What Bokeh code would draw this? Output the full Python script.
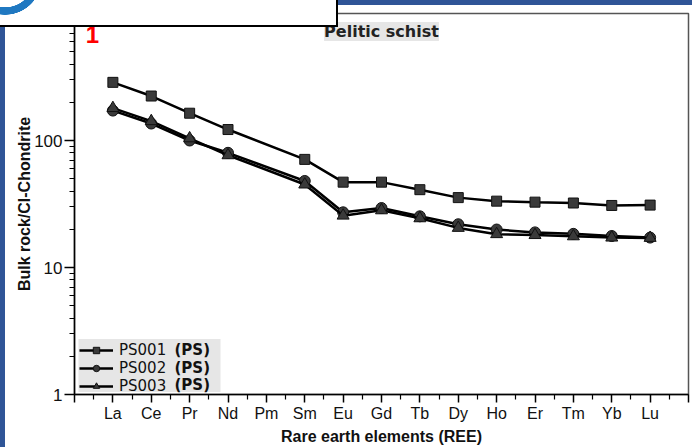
from bokeh.plotting import figure
from bokeh.models import (Range1d, FixedTicker, LogTicker, Legend, LegendItem, Label,
                          BoxAnnotation, PrintfTickFormatter)
from bokeh.embed import file_html
from bokeh.resources import INLINE

# Rare earth element order (Pm has no measurement)
elements = ["La", "Ce", "Pr", "Nd", "Pm", "Sm", "Eu", "Gd", "Tb", "Dy", "Ho", "Er", "Tm", "Yb", "Lu"]

# Chondrite-normalised concentrations
ps001 = [287, 224, 164, 122, None, 71, 47, 47, 41, 35.5, 33.3, 32.7, 32.2, 30.8, 31.0]
ps002 = [172, 136, 100, 80, None, 48, 27.2, 29.4, 25.3, 21.9, 19.9, 18.9, 18.4, 17.7, 17.2]
ps003 = [180, 142, 104, 76.5, None, 45, 25.6, 28.2, 24.4, 20.5, 18.3, 18.0, 17.6, 17.2, 17.1]

sample_names = ["PS001", "PS002", "PS003"]
group_tag = "(PS)"
title_text = "Pelitic schist"
panel_tag = "1"

W, H = 692, 447
FONT = "Liberation Sans"
WIDE = "DejaVu Sans"

p = figure(width=W, height=H, output_backend="svg", toolbar_location=None,
           y_axis_type="log", x_range=Range1d(0, 16), y_range=Range1d(1, 1000),
           min_border_left=74, min_border_right=4, min_border_top=13, min_border_bottom=47)
p.background_fill_color = "white"
p.border_fill_color = "white"
p.outline_line_color = "#555555"
p.outline_line_width = 1.5
p.grid.visible = False

# x axis: element names at integer positions, minor ticks in between
p.xaxis.ticker = FixedTicker(ticks=list(range(0, 17)),
                             minor_ticks=[i + 0.5 for i in range(0, 16)])
overrides = {i + 1: el for i, el in enumerate(elements)}
overrides[0] = ""
overrides[16] = ""
p.xaxis.major_label_overrides = overrides
p.yaxis.ticker = LogTicker(mantissas=[1], num_minor_ticks=10)
p.yaxis.formatter = PrintfTickFormatter(format="%d")

for ax in (p.xaxis[0], p.yaxis[0]):
    ax.axis_line_color = "black"
    ax.axis_line_width = 1.5
    ax.major_tick_line_color = "black"
    ax.major_tick_line_width = 1.5
    ax.minor_tick_line_color = "black"
    ax.minor_tick_line_width = 1.2
    ax.major_tick_in = 0
    ax.minor_tick_in = 0
    ax.major_label_text_font = FONT
    ax.major_label_text_color = "#111111"
    ax.axis_label_text_font = FONT
    ax.axis_label_text_font_style = "bold"
    ax.axis_label_text_font_size = "16px"
    ax.axis_label_text_color = "#111111"

p.xaxis.major_tick_out = 8
p.xaxis.minor_tick_out = 5
p.xaxis.major_label_text_font_size = "16px"
p.xaxis.major_label_standoff = 2
p.xaxis.axis_label = "Rare earth elements (REE)"
p.xaxis.axis_label_standoff = 3

p.yaxis.major_tick_out = 10
p.yaxis.minor_tick_out = 5
p.yaxis.major_label_text_font_size = "17px"
p.yaxis.major_label_standoff = 2
p.yaxis.axis_label = "Bulk rock/CI-Chondrite"
p.yaxis.axis_label_standoff = -11

# grey panel behind the legend
p.add_layout(BoxAnnotation(left=4, right=146, bottom=2.5, top=55.5,
                           left_units="screen", right_units="screen",
                           top_units="screen", bottom_units="screen",
                           fill_color="#e6e6e6", fill_alpha=1, line_alpha=0,
                           level="underlay"))

markers = ["square", "circle", "triangle"]
sizes = [10, 11, 12]
items = []
for name, vals, mk, sz in zip(sample_names, [ps001, ps002, ps003], markers, sizes):
    xs = [i + 1 for i, v in enumerate(vals) if v is not None]
    ys = [v for v in vals if v is not None]
    ln = p.line(xs, ys, line_color="black", line_width=2.5)
    sc = p.scatter(xs, ys, marker=mk, size=sz, fill_color="#3a3a3a",
                   line_color="#111111", line_width=1)
    items.append(LegendItem(label=name, renderers=[ln, sc]))

legend = Legend(items=items, location=(5, -1), orientation="vertical",
                background_fill_alpha=0, border_line_color=None,
                label_text_font=WIDE, label_text_font_size="15px",
                label_text_color="#111111",
                glyph_width=34, glyph_height=16, label_height=16, spacing=0,
                padding=2, margin=0, label_standoff=6, label_width=98)
p.add_layout(legend)

# bold group tag after each legend entry
for yy in (44.5, 27, 9.5):
    p.add_layout(Label(x=100, y=yy, x_units="screen", y_units="screen",
                       text=group_tag, text_font=WIDE, text_font_style="bold",
                       text_font_size="15px", text_baseline="middle",
                       text_color="#111111"))

# panel title inside the frame
p.add_layout(Label(x=307, y=363, x_units="screen", y_units="screen", text=title_text,
                   text_font=WIDE, text_font_style="bold", text_font_size="16px",
                   text_align="center", text_baseline="middle", text_color="#222222",
                   background_fill_color="#e6e6e6", background_fill_alpha=1))

# panel number
p.add_layout(Label(x=18, y=360, x_units="screen", y_units="screen", text=panel_tag,
                   text_font=FONT, text_font_style="bold", text_font_size="24px",
                   text_align="center", text_baseline="middle", text_color="#ff0000"))

# page frame: blue bands along top and left, white caption strip with a logo ring
frame_css = """
:host { position: relative; }
:host::before {
  content: ""; position: absolute; left: 0; top: 0;
  width: 336px; height: 25px;
  background:
    radial-gradient(circle at 5px -22px, transparent 29px, #1f78c1 29.5px,
                    #1f78c1 36.5px, transparent 37px),
    #ffffff;
  border-right: 2.5px solid #000000; border-bottom: 2.5px solid #000000;
  z-index: 101; pointer-events: none;
}
:host::after {
  content: ""; position: absolute; left: 0; top: 0;
  width: 100%; height: 100%; box-sizing: border-box;
  border-top: 5px solid #2f5597; border-left: 5px solid #2f5597;
  z-index: 100; pointer-events: none;
}
"""
p.stylesheets = [frame_css]

open("out.html", "w").write(file_html(p, INLINE))
